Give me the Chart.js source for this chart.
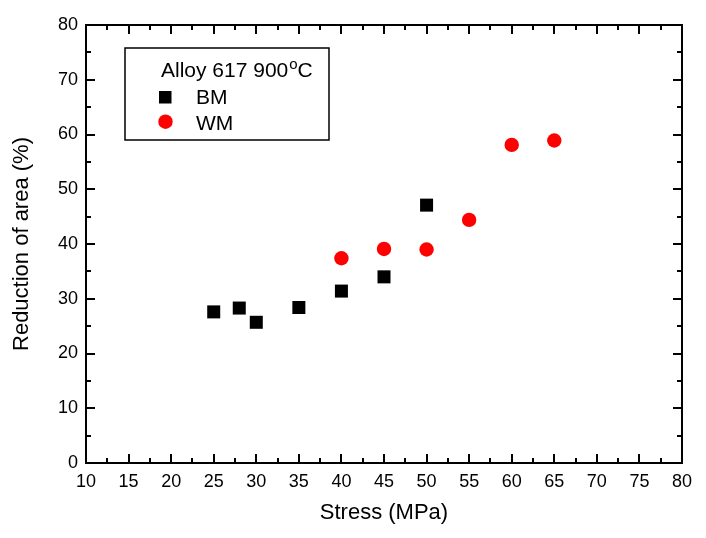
<!DOCTYPE html>
<html>
<head>
<meta charset="utf-8">
<script src="https://cdn.jsdelivr.net/npm/chart.js@4.4.0/dist/chart.umd.min.js"></script>
<style>
  html, body { margin: 0; padding: 0; background: #fff; }
  #wrap { width: 706px; height: 538px; }
</style>
</head>
<body>
<div id="wrap"><canvas id="chart" width="706" height="538"></canvas></div>
<script>
const bmStress = [25, 28, 30, 35, 40, 45, 50];
const bmArea = [27.6, 28.3, 25.7, 28.4, 31.4, 34.0, 47.1];
const wmStress = [40, 45, 50, 55, 60, 65];
const wmArea = [37.4, 39.1, 39.0, 44.4, 58.1, 58.9];
const legendTitle = "Alloy 617 900";

const FONT = "'Liberation Sans', Arial, sans-serif";

const toPoints = (xs, ys) => xs.map((x, i) => ({ x: x, y: ys[i] }));

// frame, inward ticks on all four sides, and the boxed legend
const framePlugin = {
  id: "frame",
  afterDatasetsDraw(chart) {
    const { ctx, chartArea: a, scales } = chart;
    const xs = scales.x, ys = scales.y;
    ctx.save();
    ctx.strokeStyle = "#000";
    ctx.lineWidth = 2;
    ctx.strokeRect(a.left, a.top, a.right - a.left, a.bottom - a.top);

    ctx.beginPath();
    for (let v = 10; v <= 80; v += 2.5) {
      const px = Math.round(xs.getPixelForValue(v));
      const len = v % 5 === 0 ? 9 : 5;
      ctx.moveTo(px, a.bottom); ctx.lineTo(px, a.bottom - len);
      ctx.moveTo(px, a.top); ctx.lineTo(px, a.top + len);
    }
    for (let v = 0; v <= 80; v += 5) {
      const py = Math.round(ys.getPixelForValue(v));
      const len = v % 10 === 0 ? 9 : 5;
      ctx.moveTo(a.left, py); ctx.lineTo(a.left + len, py);
      ctx.moveTo(a.right, py); ctx.lineTo(a.right - len, py);
    }
    ctx.stroke();

    // legend box
    ctx.lineWidth = 1.5;
    ctx.strokeRect(125, 48, 204, 92);
    ctx.fillStyle = "#000";
    ctx.textBaseline = "alphabetic";
    ctx.font = "21px " + FONT;
    ctx.fillText(legendTitle, 161, 77);
    const w = ctx.measureText(legendTitle).width;
    ctx.font = "15px " + FONT;
    ctx.fillText("o", 161 + w + 1, 69);
    const wo = ctx.measureText("o").width;
    ctx.font = "21px " + FONT;
    ctx.fillText("C", 161 + w + wo + 1, 77);

    ctx.fillText("BM", 196, 104);
    ctx.fillText("WM", 196, 130);
    ctx.fillRect(159, 91, 12.5, 12.5);
    ctx.fillStyle = "#ff0000";
    ctx.beginPath();
    ctx.arc(165.5, 121.7, 7.2, 0, Math.PI * 2);
    ctx.fill();
    ctx.restore();
  },
};

new Chart(document.getElementById("chart"), {
  type: "scatter",
  data: {
    datasets: [
      {
        label: "BM",
        data: toPoints(bmStress, bmArea),
        pointStyle: "rect",
        pointRadius: 9.2,
        pointHoverRadius: 9.2,
        backgroundColor: "#000",
        borderWidth: 0,
      },
      {
        label: "WM",
        data: toPoints(wmStress, wmArea),
        pointStyle: "circle",
        pointRadius: 7.2,
        pointHoverRadius: 7.2,
        backgroundColor: "#ff0000",
        borderWidth: 0,
      },
    ],
  },
  options: {
    responsive: false,
    animation: false,
    layout: { padding: { top: 25, right: 24, left: 0, bottom: 0 } },
    plugins: { legend: { display: false }, tooltip: { enabled: false } },
    scales: {
      x: {
        type: "linear",
        min: 10,
        max: 80,
        afterFit: (s) => { s.height = 75; },
        afterBuildTicks: (s) => {
          s.ticks = [];
          for (let v = 10; v <= 80; v += 5) s.ticks.push({ value: v });
        },
        grid: { display: false, drawTicks: false },
        border: { display: false },
        ticks: { color: "#000", padding: 8, font: { family: FONT, size: 18 } },
        title: {
          display: true,
          text: "Stress (MPa)",
          color: "#000",
          padding: { top: 0, bottom: 12 },
          font: { family: FONT, size: 22 },
        },
      },
      y: {
        min: 0,
        max: 80,
        afterFit: (s) => { s.width = 86; },
        afterBuildTicks: (s) => {
          s.ticks = [];
          for (let v = 0; v <= 80; v += 10) s.ticks.push({ value: v });
        },
        grid: { display: false, drawTicks: false },
        border: { display: false },
        ticks: { color: "#000", padding: 8, font: { family: FONT, size: 18 } },
        title: {
          display: true,
          text: "Reduction of area (%)",
          color: "#000",
          padding: { top: 9, bottom: 0 },
          font: { family: FONT, size: 22 },
        },
      },
    },
  },
  plugins: [framePlugin],
});
</script>
</body>
</html>
